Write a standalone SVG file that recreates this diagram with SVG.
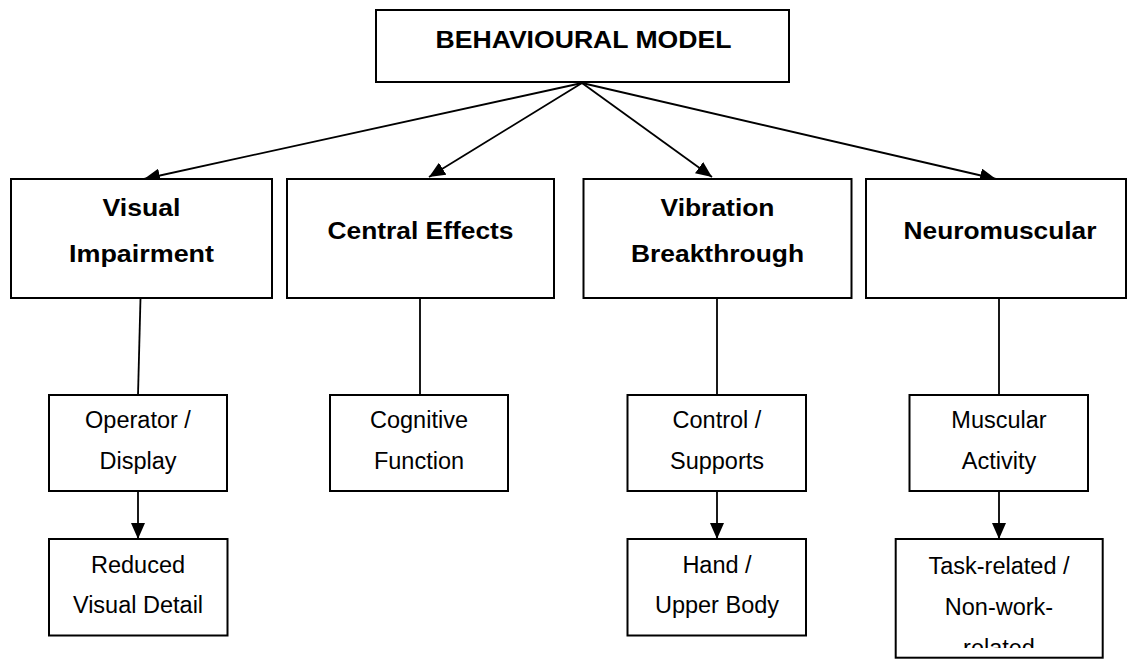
<svg xmlns="http://www.w3.org/2000/svg" width="1128" height="659" viewBox="0 0 1128 659">
<style>
.box{fill:#fff;stroke:#000;stroke-width:2}
.h{font-family:"Liberation Sans",Arial,sans-serif;font-weight:bold;font-size:23px;text-anchor:middle;fill:#000}
.t{font-family:"Liberation Sans",Arial,sans-serif;font-size:23.5px;text-anchor:middle;fill:#000}
.c{stroke:#000;stroke-width:1.8;fill:none}
</style>
<defs>
<marker id="ah" viewBox="0 0 16 14" refX="16" refY="7" markerWidth="16" markerHeight="14" markerUnits="userSpaceOnUse" orient="auto">
<path d="M0,0 L16,7 L0,14 z" fill="#000"/>
</marker>
<clipPath id="clipTask"><rect x="896" y="539" width="206" height="109"/></clipPath>
</defs>
<rect width="1128" height="659" fill="#fff"/>
<g id="connectors">
<line class="c" x1="582" y1="83" x2="144" y2="179" marker-end="url(#ah)"/>
<line class="c" x1="582" y1="83" x2="429" y2="177" marker-end="url(#ah)"/>
<line class="c" x1="582" y1="83" x2="712" y2="177" marker-end="url(#ah)"/>
<line class="c" x1="582" y1="83" x2="996" y2="179" marker-end="url(#ah)"/>
<line class="c" x1="140.5" y1="298" x2="138" y2="395"/>
<line class="c" x1="420" y1="298" x2="420" y2="395"/>
<line class="c" x1="717" y1="298" x2="717" y2="395"/>
<line class="c" x1="999" y1="298" x2="999" y2="395"/>
<line class="c" x1="138" y1="491" x2="138" y2="539" marker-end="url(#ah)"/>
<line class="c" x1="717" y1="491" x2="717" y2="539" marker-end="url(#ah)"/>
<line class="c" x1="999" y1="491" x2="999" y2="539" marker-end="url(#ah)"/>
</g>
<g id="behavioural-model">
<rect class="box" x="376" y="10" width="413" height="72"/>
<text class="h" x="583.5" y="48.3" textLength="296" lengthAdjust="spacingAndGlyphs">BEHAVIOURAL MODEL</text>
</g>
<g id="visual-impairment">
<rect class="box" x="11" y="179" width="261" height="119"/>
<text class="h" x="141.5" y="216" textLength="78" lengthAdjust="spacingAndGlyphs">Visual</text>
<text class="h" x="141.5" y="262" textLength="145" lengthAdjust="spacingAndGlyphs">Impairment</text>
</g>
<g id="central-effects">
<rect class="box" x="287" y="179" width="267" height="119"/>
<text class="h" x="420.5" y="239.3" textLength="186" lengthAdjust="spacingAndGlyphs">Central Effects</text>
</g>
<g id="vibration-breakthrough">
<rect class="box" x="583.5" y="179" width="268" height="119"/>
<text class="h" x="717.5" y="216" textLength="114" lengthAdjust="spacingAndGlyphs">Vibration</text>
<text class="h" x="717.5" y="262" textLength="173" lengthAdjust="spacingAndGlyphs">Breakthrough</text>
</g>
<g id="neuromuscular">
<rect class="box" x="866" y="179" width="260" height="119"/>
<text class="h" x="1000" y="239.3" textLength="193" lengthAdjust="spacingAndGlyphs">Neuromuscular</text>
</g>
<g id="operator-display">
<rect class="box" x="49" y="395" width="178" height="96"/>
<text class="t" x="138" y="427.7">Operator /</text>
<text class="t" x="138" y="469.3">Display</text>
</g>
<g id="reduced-visual-detail">
<rect class="box" x="49" y="539" width="178.5" height="96.5"/>
<text class="t" x="138" y="572.7">Reduced</text>
<text class="t" x="138" y="613.3">Visual Detail</text>
</g>
<g id="cognitive-function">
<rect class="box" x="330" y="395" width="178" height="96"/>
<text class="t" x="419" y="427.7">Cognitive</text>
<text class="t" x="419" y="469.3">Function</text>
</g>
<g id="control-supports">
<rect class="box" x="627.5" y="395" width="178.5" height="96"/>
<text class="t" x="717" y="427.7">Control /</text>
<text class="t" x="717" y="469.3">Supports</text>
</g>
<g id="hand-upper-body">
<rect class="box" x="627.5" y="539" width="178.5" height="96.5"/>
<text class="t" x="717" y="572.7">Hand /</text>
<text class="t" x="717" y="613.3">Upper Body</text>
</g>
<g id="muscular-activity">
<rect class="box" x="909.5" y="395" width="178.5" height="96"/>
<text class="t" x="999" y="427.7">Muscular</text>
<text class="t" x="999" y="469.3">Activity</text>
</g>
<g id="task-related">
<rect class="box" x="895.7" y="539" width="207" height="118.7"/>
<g clip-path="url(#clipTask)">
<text class="t" x="999" y="574">Task-related /</text>
<text class="t" x="999" y="615">Non-work-</text>
<text class="t" x="999" y="656">related</text>
</g>
</g>
</svg>
